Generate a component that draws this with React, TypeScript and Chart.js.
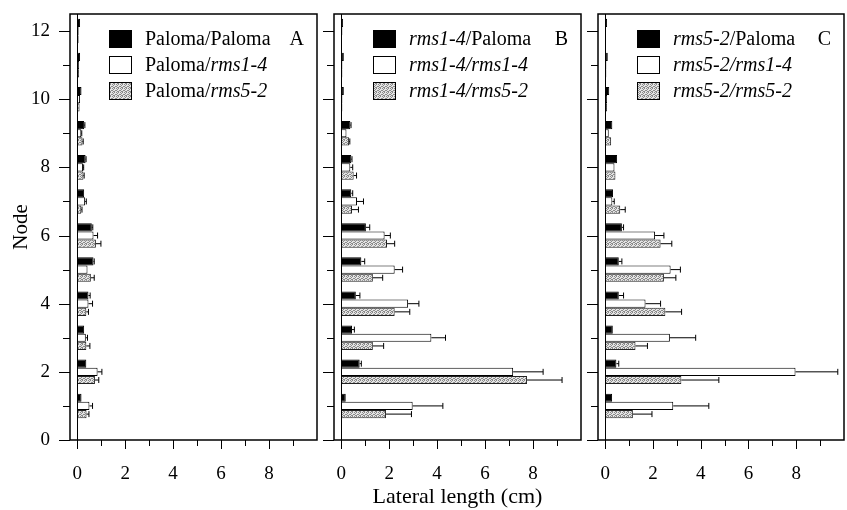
import React, { useEffect, useRef } from 'react';
import { Chart, registerables } from 'chart.js';

Chart.register(...registerables);

const FONT = "'Liberation Serif', 'Times New Roman', Times, serif";

// ---------- data ----------
const nodes = [1, 2, 3, 4, 5, 6, 7, 8, 9, 10, 11, 12];
const xTickLabels = ['0', '2', '4', '6', '8'];
const yTickLabels = ['0', '2', '4', '6', '8', '10', '12'];

// Panel A
const aPaloma = [0.18, 0.38, 0.29, 0.47, 0.68, 0.61, 0.29, 0.35, 0.29, 0.18, 0.12, 0.12];
const aPalomaErr = [0, 0, 0, 0.07, 0.03, 0.04, 0, 0.02, 0.03, 0, 0, 0];
const aRms14 = [0.51, 0.85, 0.36, 0.47, 0.43, 0.68, 0.33, 0.24, 0.17, 0.12, 0.08, 0.06];
const aRms14Err = [0.13, 0.18, 0.07, 0.17, 0, 0.17, 0.05, 0.03, 0.02, 0, 0, 0];
const aRms52 = [0.39, 0.74, 0.38, 0.38, 0.57, 0.78, 0.17, 0.26, 0.22, 0.1, 0.08, 0.06];
const aRms52Err = [0.1, 0.16, 0.15, 0.09, 0.14, 0.21, 0.03, 0.03, 0.03, 0, 0, 0];

// Panel B
const bPaloma = [0.19, 0.77, 0.45, 0.61, 0.84, 1.03, 0.42, 0.42, 0.38, 0.11, 0.11, 0.08];
const bPalomaErr = [0, 0.07, 0.1, 0.17, 0.14, 0.16, 0.06, 0.03, 0.03, 0, 0, 0];
const bRms14 = [2.98, 7.17, 3.76, 2.79, 2.23, 1.81, 0.66, 0.38, 0.22, 0.05, 0.05, 0.05];
const bRms14Err = [1.26, 1.25, 0.59, 0.45, 0.33, 0.24, 0.27, 0.1, 0, 0, 0, 0];
const bRms52 = [1.87, 7.75, 1.32, 2.23, 1.32, 1.91, 0.45, 0.52, 0.33, 0.05, 0.05, 0.03];
const bRms52Err = [1.06, 1.46, 0.45, 0.63, 0.41, 0.32, 0.27, 0.12, 0.03, 0, 0, 0];

// Panel C
const cPaloma = [0.29, 0.47, 0.32, 0.57, 0.57, 0.7, 0.33, 0.5, 0.3, 0.17, 0.11, 0.08];
const cPalomaErr = [0, 0.1, 0, 0.2, 0.13, 0.07, 0, 0, 0, 0, 0, 0];
const cRms14 = [2.85, 7.97, 2.71, 1.69, 2.74, 2.09, 0.3, 0.39, 0.15, 0.08, 0.05, 0.03];
const cRms14Err = [1.49, 1.77, 1.08, 0.63, 0.41, 0.37, 0.08, 0, 0, 0, 0, 0];
const cRms52 = [1.16, 3.19, 1.27, 2.52, 2.46, 2.32, 0.63, 0.43, 0.25, 0.08, 0.05, 0.02];
const cRms52Err = [0.8, 1.57, 0.5, 0.68, 0.5, 0.47, 0.21, 0, 0, 0, 0, 0];

type Seg = { t: string; i: boolean };
const legendA: Seg[][] = [
  [{ t: 'Paloma/Paloma', i: false }],
  [{ t: 'Paloma/', i: false }, { t: 'rms1-4', i: true }],
  [{ t: 'Paloma/', i: false }, { t: 'rms5-2', i: true }],
];
const legendB: Seg[][] = [
  [{ t: 'rms1-4', i: true }, { t: '/Paloma', i: false }],
  [{ t: 'rms1-4/rms1-4', i: true }],
  [{ t: 'rms1-4/rms5-2', i: true }],
];
const legendC: Seg[][] = [
  [{ t: 'rms5-2', i: true }, { t: '/Paloma', i: false }],
  [{ t: 'rms5-2/rms1-4', i: true }],
  [{ t: 'rms5-2/rms5-2', i: true }],
];

// ---------- layout ----------
const panels = [
  {
    letter: 'A', left: 0, width: 322, yWidth: 70, padRight: 5, yLabels: true, yTitle: 'Node', xTitle: '',
    series: [[aPaloma, aPalomaErr], [aRms14, aRms14Err], [aRms52, aRms52Err]], legend: legendA,
  },
  {
    letter: 'B', left: 322, width: 264, yWidth: 12, padRight: 5, yLabels: false, yTitle: '', xTitle: 'Lateral length (cm)',
    series: [[bPaloma, bPalomaErr], [bRms14, bRms14Err], [bRms52, bRms52Err]], legend: legendB,
  },
  {
    letter: 'C', left: 586, width: 261, yWidth: 12, padRight: 3, yLabels: false, yTitle: '', xTitle: '',
    series: [[cPaloma, cPalomaErr], [cRms14, cRms14Err], [cRms52, cRms52Err]], legend: legendC,
  },
];

function makePattern(): CanvasPattern | string {
  const c = document.createElement('canvas');
  c.width = 4;
  c.height = 4;
  const g = c.getContext('2d');
  if (!g) return '#bbbbbb';
  g.fillStyle = '#e4e4e4';
  g.fillRect(0, 0, 4, 4);
  g.fillStyle = '#8a8a8a';
  [[0, 0], [2, 0], [1, 1], [3, 2], [0, 2], [2, 3], [1, 3]].forEach(([px, py]) => g.fillRect(px, py, 1, 1));
  const p = g.createPattern(c, 'repeat');
  return p || '#bbbbbb';
}

const decorPlugin = {
  id: 'panelDecor',
  afterDatasetsDraw(chart: any, _args: any, opts: any) {
    const ctx: CanvasRenderingContext2D = chart.ctx;
    const { left, right, top, bottom } = chart.chartArea;
    const xs = chart.scales.x;
    const ys = chart.scales.y;
    ctx.save();
    ctx.strokeStyle = '#000';
    ctx.lineWidth = 1;
    // error bars
    chart.data.datasets.forEach((ds: any, di: number) => {
      const meta = chart.getDatasetMeta(di);
      meta.data.forEach((el: any, i: number) => {
        const e = ds.errors[i];
        if (!e) return;
        const v = ds.data[i].x;
        const x0 = xs.getPixelForValue(v);
        const x1 = xs.getPixelForValue(v + e);
        const yc = el.y;
        ctx.beginPath();
        ctx.moveTo(x0, yc);
        ctx.lineTo(x1, yc);
        ctx.moveTo(x1, yc - 3);
        ctx.lineTo(x1, yc + 3);
        ctx.stroke();
      });
    });
    // zero line
    const z = Math.round(xs.getPixelForValue(0)) + 0.5;
    ctx.beginPath();
    ctx.moveTo(z, top);
    ctx.lineTo(z, bottom);
    ctx.stroke();
    // frame
    ctx.lineWidth = 1.5;
    ctx.strokeRect(left, top, right - left, bottom - top);
    // ticks
    ctx.lineWidth = 1;
    for (let v = 0; v <= 12; v++) {
      const py = Math.round(ys.getPixelForValue(v)) + 0.5;
      const len = v % 2 === 0 ? 11 : 7;
      ctx.beginPath();
      ctx.moveTo(left - len, py);
      ctx.lineTo(left, py);
      ctx.stroke();
    }
    for (let v = 0; v <= 9; v++) {
      const px = Math.round(xs.getPixelForValue(v)) + 0.5;
      const len = v % 2 === 0 ? 9 : 6;
      ctx.beginPath();
      ctx.moveTo(px, bottom);
      ctx.lineTo(px, bottom + len);
      ctx.stroke();
    }
    // legend
    const legend: Seg[][] = opts.legend;
    legend.forEach((row, r) => {
      const ds = chart.data.datasets[r];
      const cy = top + 25 + r * 26;
      const bx = left + 39;
      ctx.fillStyle = ds.backgroundColor;
      ctx.fillRect(bx, cy - 9, 23, 18);
      ctx.strokeStyle = '#000';
      ctx.lineWidth = 1;
      ctx.strokeRect(bx + 0.5, cy - 8.5, 22, 17);
      let tx = left + 75;
      ctx.fillStyle = '#000';
      ctx.textBaseline = 'middle';
      ctx.textAlign = 'left';
      row.forEach((s) => {
        ctx.font = `${s.i ? 'italic ' : ''}20px ${FONT}`;
        ctx.fillText(s.t, tx, cy + 1);
        tx += ctx.measureText(s.t).width;
      });
    });
    // panel letter
    ctx.font = `20px ${FONT}`;
    ctx.textAlign = 'right';
    ctx.textBaseline = 'middle';
    ctx.fillText(opts.letter, right - 13, top + 26);
    ctx.restore();
  },
};

function Panel({ cfg }: { cfg: typeof panels[number] }) {
  const ref = useRef<HTMLCanvasElement | null>(null);
  useEffect(() => {
    if (!ref.current) return;
    const pattern = makePattern();
    const fills = ['#000000', '#ffffff', pattern];
    const borders = ['#000000', '#000000', '#222222'];
    const chart = new Chart(ref.current, {
      type: 'bar',
      data: {
        datasets: cfg.series.map(([vals, errs], si) => ({
          label: cfg.legend[si].map((s) => s.t).join(''),
          data: nodes.map((n, i) => ({ x: vals[i], y: n })),
          errors: errs,
          backgroundColor: fills[si],
          borderColor: borders[si],
          borderWidth: 1,
          categoryPercentage: 0.72,
          barPercentage: 1,
        })) as any,
      },
      options: {
        indexAxis: 'y',
        responsive: false,
        animation: false,
        layout: { padding: { top: 14, right: cfg.padRight, bottom: 0, left: 0 } },
        plugins: {
          legend: { display: false },
          tooltip: { enabled: false },
          panelDecor: { legend: cfg.legend, letter: cfg.letter },
        } as any,
        scales: {
          x: {
            type: 'linear',
            min: -0.3,
            max: 10,
            offset: false,
            grid: { display: false, drawTicks: false },
            border: { display: false },
            ticks: {
              stepSize: 1,
              includeBounds: false,
              autoSkip: false,
              maxRotation: 0,
              padding: 23,
              color: '#000',
              font: { family: FONT, size: 19 },
              callback: (v: any) => {
                const n = Number(v);
                const s = String(n);
                return Number.isInteger(n) && xTickLabels.includes(s) ? s : '';
              },
            },
            title: {
              display: !!cfg.xTitle,
              text: cfg.xTitle,
              color: '#000',
              font: { family: FONT, size: 22, lineHeight: 1.2 },
              padding: { top: 0, bottom: 0 },
            },
            afterFit: (s: any) => {
              s.height = 70;
              s.paddingLeft = 0;
              s.paddingRight = 0;
            },
          },
          y: {
            type: 'linear',
            min: 0,
            max: 12.5,
            offset: false,
            grid: { display: false, drawTicks: false },
            border: { display: false },
            ticks: {
              display: cfg.yLabels,
              stepSize: 1,
              includeBounds: false,
              autoSkip: false,
              padding: 20,
              color: '#000',
              font: { family: FONT, size: 19 },
              callback: (v: any) => {
                const s = String(Number(v));
                return yTickLabels.includes(s) ? s : '';
              },
            },
            title: {
              display: !!cfg.yTitle,
              text: cfg.yTitle,
              color: '#000',
              font: { family: FONT, size: 21, lineHeight: 1.2 },
              padding: { top: 9, bottom: 0 },
            },
            afterFit: (s: any) => {
              s.width = cfg.yWidth;
              s.paddingTop = 0;
              s.paddingBottom = 0;
            },
          },
        },
      } as any,
      plugins: [decorPlugin],
    });
    return () => chart.destroy();
  }, [cfg]);
  return (
    <canvas
      ref={ref}
      width={cfg.width}
      height={510}
      style={{ position: 'absolute', left: cfg.left, top: 0, width: cfg.width, height: 510, display: 'block' }}
    />
  );
}

export default function App() {
  return (
    <div style={{ position: 'absolute', left: 0, top: 0, width: 847, height: 510, background: '#fff', overflow: 'hidden' }}>
      {panels.map((p) => (
        <Panel key={p.letter} cfg={p} />
      ))}
    </div>
  );
}
